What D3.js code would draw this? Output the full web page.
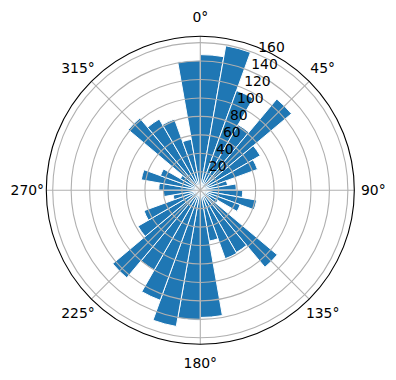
<!DOCTYPE html>
<html>
<head>
<meta charset="utf-8">
<script src="https://cdn.jsdelivr.net/npm/d3@7"></script>
<style>
body { margin: 0; background: #fff; }
text { font-family: "DejaVu Sans", sans-serif; font-size: 13.9px; fill: #000; }
</style>
</head>
<body>
<div class="container"></div>
<script>
// direction bins (degrees, clockwise from north) and counts per bin
var binStarts = [0,10,20,30,40,50,60,70,80,90,100,110,120,130,140,150,160,170,
                 180,190,200,210,220,230,240,250,260,270,280,290,300,310,320,330,340,350];
var counts = [147,159,115,82,129,75,66,30,39,46,62,46,22,109,78,79,56,138,
              141,150,127,100,124,78,65,30,40,45,65,46,25,102,89,82,56,141];
var binWidth = 10;
var radialTicks = [20,40,60,80,100,120,140,160];
var thetaTicks = [0,45,90,135,180,225,270,315];

const WIDTH = 396;
const HEIGHT = 380;
const CX = 200.3;
const CY = 190.2;
const RADIUS = 154;

var rad = function(d){ return d * Math.PI / 180; };

var svg = d3.select('.container').append('svg')
	.attr('width', WIDTH)
	.attr('height', HEIGHT);

var rScale = d3.scaleLinear()
	.domain([0, d3.max(counts) * 1.05])
	.range([0, RADIUS]);

var g = svg.append('g')
	.attr('transform', 'translate(' + CX + ',' + CY + ')');

var arc = d3.arc()
	.innerRadius(0)
	.outerRadius(function(d){ return rScale(d.v); })
	.startAngle(function(d){ return rad(d.a); })
	.endAngle(function(d){ return rad(d.a + binWidth); });

var bars = binStarts.map(function(a, i){ return {a: a, v: counts[i]}; });

g.selectAll('path.bar').data(bars)
	.enter().append('path')
	.attr('class', 'bar')
	.attr('d', arc)
	.attr('fill', '#1f77b4')
	.attr('stroke', '#fff')
	.attr('stroke-width', 1);

// grid drawn over the bars, like matplotlib
g.selectAll('circle.grid').data(radialTicks)
	.enter().append('circle')
	.attr('r', function(d){ return rScale(d); })
	.attr('fill', 'none')
	.attr('stroke', '#b0b0b0')
	.attr('stroke-width', 1.1);

g.selectAll('line.spoke').data(thetaTicks)
	.enter().append('line')
	.attr('x1', 0).attr('y1', 0)
	.attr('x2', function(d){ return RADIUS * Math.sin(rad(d)); })
	.attr('y2', function(d){ return -RADIUS * Math.cos(rad(d)); })
	.attr('stroke', '#b0b0b0')
	.attr('stroke-width', 1.1);

g.append('circle')
	.attr('r', RADIUS)
	.attr('fill', 'none')
	.attr('stroke', '#000')
	.attr('stroke-width', 1.1);

// radial labels at 22.5 deg
g.selectAll('text.rlab').data(radialTicks)
	.enter().append('text')
	.attr('x', function(d){ return rScale(d) * Math.sin(rad(22.5)) + 1.5; })
	.attr('y', function(d){ return -rScale(d) * Math.cos(rad(22.5)) - 2; })
	.text(function(d){ return d; });

g.selectAll('text.tlab').data(thetaTicks)
	.enter().append('text')
	.attr('x', function(d){ return (RADIUS + 19) * Math.sin(rad(d)); })
	.attr('y', function(d){ return -(RADIUS + 19) * Math.cos(rad(d)); })
	.attr('text-anchor', 'middle')
	.attr('dominant-baseline', 'central')
	.text(function(d){ return d + '°'; });
</script>
</body>
</html>
